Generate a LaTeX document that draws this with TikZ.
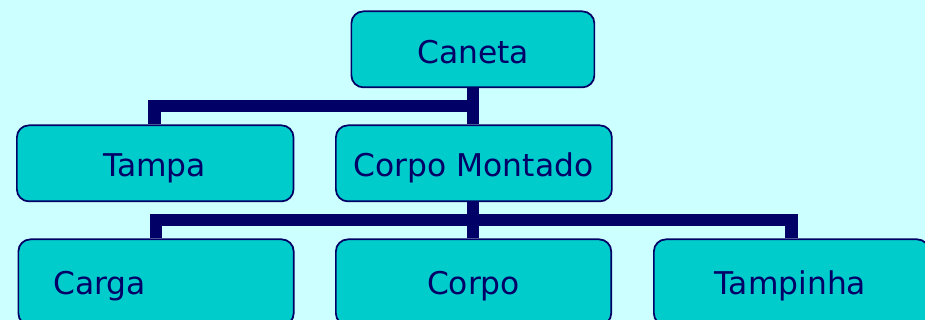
\documentclass[tikz,border=0pt]{standalone}
\usepackage{fontspec}
\setmainfont{DejaVu Sans}
\definecolor{bgc}{HTML}{CCFFFF}
\definecolor{boxc}{HTML}{00CCCC}
\definecolor{navy}{HTML}{000066}
\tikzset{
  boxn/.style={draw=navy,line width=1.3pt,fill=boxc,rounded corners=9pt,inner sep=0pt,anchor=north west},
  lbl/.style={text=navy,font=\fontsize{23.5}{28}\selectfont,inner sep=0pt},
  link/.style={draw=navy,line width=9.5pt}
}
\begin{document}
\begin{tikzpicture}[x=0.75pt,y=-0.75pt]
\useasboundingbox (0,0) rectangle (925,320);
\fill[bgc] (0,0) rectangle (925,320);
\begin{scope}
\clip (0,0) rectangle (925,320);
\node[boxn,minimum width=182.25pt,minimum height=57pt] (caneta) at (350.5,10.5) {};
\node[boxn,minimum width=207.5pt,minimum height=57pt] (tampa) at (16,124.5) {};
\node[boxn,minimum width=207pt,minimum height=57pt] (cm) at (335,124.5) {};
\node[boxn,minimum width=206.5pt,minimum height=64.5pt] (carga) at (17.5,238.5) {};
\node[boxn,minimum width=206.5pt,minimum height=64.5pt] (corpo) at (335,238.5) {};
\node[boxn,minimum width=206.5pt,minimum height=64.5pt] (tampinha) at (653,238.5) {};
\node[lbl] (canetat) at (473,52.5) {Caneta};
\node[lbl] (tampat) at (154.5,168) {Tampa};
\node[lbl] (cmt) at (473.5,168) {Corpo Montado};
\node[lbl] (cargat) at (99.5,286) {Carga};
\node[lbl] (corpot) at (473.5,286) {Corpo};
\node[lbl] (tampinhat) at (790.5,286) {Tampinha};
\coordinate (j1) at (473,106);
\coordinate (j2) at (473,220);
\coordinate (t1) at (154.7,106);
\coordinate (t2) at (156,220);
\coordinate (t3) at (791.5,220);
\draw[link] (caneta.south -| j1) -- (cm.north -| j1);
\draw[link] (j1) -- (t1) -- (tampa.north -| t1);
\draw[link] (cm.south -| j2) -- (corpo.north -| j2);
\draw[link] (j2) -- (t2) -- (carga.north -| t2);
\draw[link] (j2) -- (t3) -- (tampinha.north -| t3);
\end{scope}
\end{tikzpicture}
\end{document}
